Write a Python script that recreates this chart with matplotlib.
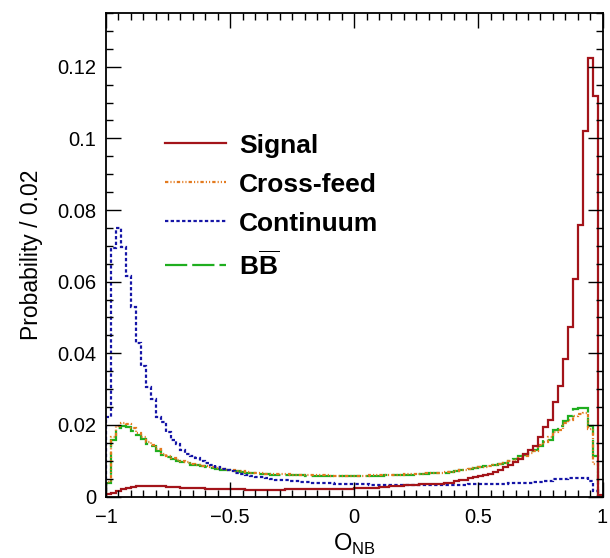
import numpy as np
import matplotlib
matplotlib.use("Agg")
import matplotlib.pyplot as plt
from matplotlib.ticker import FixedLocator, MultipleLocator
from matplotlib.lines import Line2D

plt.rcParams['font.family'] = ['Liberation Sans', 'DejaVu Sans']
plt.rcParams['mathtext.fontset'] = 'custom'
plt.rcParams['mathtext.rm'] = 'Liberation Sans'
plt.rcParams['mathtext.bf'] = 'Liberation Sans:bold'
plt.rcParams['lines.scale_dashes'] = False

# ---------------- data ----------------
bin_edges = np.linspace(-1.0, 1.0, 101)

signal = [
    0.0006, 0.0010, 0.0016, 0.0021, 0.0025, 0.0027, 0.0028, 0.0028, 0.0029, 0.0029,
    0.0028, 0.0028, 0.0027, 0.0026, 0.0026, 0.0025, 0.0024, 0.0024, 0.0023, 0.0023,
    0.0022, 0.0022, 0.0021, 0.0021, 0.0021, 0.0021, 0.0020, 0.0020, 0.0019, 0.0019,
    0.0019, 0.0019, 0.0019, 0.0019, 0.0019, 0.0019, 0.0020, 0.0020, 0.0020, 0.0020,
    0.0020, 0.0021, 0.0021, 0.0021, 0.0021, 0.0021, 0.0022, 0.0022, 0.0022, 0.0022,
    0.0023, 0.0023, 0.0024, 0.0024, 0.0025, 0.0026, 0.0027, 0.0028, 0.0029, 0.0030,
    0.0031, 0.0032, 0.0033, 0.0034, 0.0034, 0.0035, 0.0035, 0.0036, 0.0037, 0.0039,
    0.0042, 0.0045, 0.0047, 0.0051, 0.0054, 0.0057, 0.0060, 0.0064, 0.0068, 0.0073,
    0.0081, 0.0087, 0.0096, 0.0104, 0.0118, 0.0131, 0.0142, 0.0165, 0.0195, 0.0214,
    0.0265, 0.0308, 0.0384, 0.0472, 0.0607, 0.0759, 0.1021, 0.1225, 0.1119, 0.0003,
]

cross_feed = [
    0.0040, 0.0165, 0.0196, 0.0204, 0.0203, 0.0190, 0.0176, 0.0165, 0.0152, 0.0145,
    0.0133, 0.0120, 0.0113, 0.0108, 0.0103, 0.0099, 0.0095, 0.0091, 0.0088, 0.0086,
    0.0084, 0.0082, 0.0080, 0.0077, 0.0075, 0.0074, 0.0072, 0.0070, 0.0068, 0.0067,
    0.0066, 0.0065, 0.0064, 0.0063, 0.0063, 0.0062, 0.0062, 0.0061, 0.0061, 0.0060,
    0.0060, 0.0060, 0.0059, 0.0059, 0.0059, 0.0058, 0.0058, 0.0058, 0.0058, 0.0058,
    0.0058, 0.0058, 0.0058, 0.0059, 0.0059, 0.0059, 0.0060, 0.0060, 0.0061, 0.0061,
    0.0062, 0.0062, 0.0063, 0.0064, 0.0065, 0.0066, 0.0067, 0.0067, 0.0068, 0.0069,
    0.0071, 0.0073, 0.0075, 0.0077, 0.0079, 0.0081, 0.0083, 0.0085, 0.0087, 0.0090,
    0.0093, 0.0098, 0.0103, 0.0108, 0.0112, 0.0122, 0.0128, 0.0145, 0.0152, 0.0165,
    0.0179, 0.0187, 0.0205, 0.0215, 0.0226, 0.0230, 0.0233, 0.0189, 0.0091, 0.0000,
]

continuum = [
    0.0222, 0.0695, 0.0750, 0.0698, 0.0617, 0.0530, 0.0430, 0.0365, 0.0305, 0.0272,
    0.0222, 0.0207, 0.0180, 0.0159, 0.0147, 0.0130, 0.0120, 0.0113, 0.0107, 0.0100,
    0.0093, 0.0087, 0.0082, 0.0077, 0.0074, 0.0070, 0.0066, 0.0062, 0.0060, 0.0058,
    0.0055, 0.0054, 0.0051, 0.0049, 0.0047, 0.0046, 0.0045, 0.0044, 0.0042, 0.0041,
    0.0040, 0.0039, 0.0038, 0.0038, 0.0037, 0.0037, 0.0036, 0.0036, 0.0035, 0.0035,
    0.0035, 0.0034, 0.0034, 0.0033, 0.0033, 0.0033, 0.0033, 0.0033, 0.0033, 0.0033,
    0.0033, 0.0033, 0.0033, 0.0032, 0.0032, 0.0032, 0.0032, 0.0033, 0.0033, 0.0033,
    0.0033, 0.0033, 0.0033, 0.0034, 0.0034, 0.0034, 0.0035, 0.0035, 0.0035, 0.0036,
    0.0036, 0.0037, 0.0037, 0.0038, 0.0038, 0.0039, 0.0040, 0.0041, 0.0042, 0.0044,
    0.0048, 0.0049, 0.0050, 0.0051, 0.0052, 0.0052, 0.0052, 0.0042, 0.0014, 0.0000,
]

bbbar = [
    0.0038, 0.0158, 0.0192, 0.0198, 0.0195, 0.0183, 0.0171, 0.0161, 0.0148, 0.0140,
    0.0128, 0.0115, 0.0110, 0.0105, 0.0100, 0.0097, 0.0093, 0.0089, 0.0087, 0.0084,
    0.0083, 0.0080, 0.0078, 0.0075, 0.0073, 0.0072, 0.0070, 0.0068, 0.0066, 0.0065,
    0.0064, 0.0063, 0.0062, 0.0061, 0.0061, 0.0060, 0.0060, 0.0060, 0.0059, 0.0059,
    0.0058, 0.0058, 0.0058, 0.0057, 0.0057, 0.0057, 0.0057, 0.0057, 0.0057, 0.0057,
    0.0057, 0.0057, 0.0057, 0.0058, 0.0058, 0.0058, 0.0059, 0.0059, 0.0060, 0.0060,
    0.0061, 0.0061, 0.0062, 0.0063, 0.0064, 0.0065, 0.0066, 0.0066, 0.0067, 0.0069,
    0.0071, 0.0074, 0.0075, 0.0077, 0.0079, 0.0082, 0.0084, 0.0087, 0.0088, 0.0091,
    0.0093, 0.0100, 0.0105, 0.0112, 0.0115, 0.0126, 0.0130, 0.0142, 0.0157, 0.0159,
    0.0186, 0.0196, 0.0212, 0.0224, 0.0245, 0.0246, 0.0247, 0.0198, 0.0112, 0.0000,
]

labels = ["Signal", "Cross-feed", "Continuum", r"$\mathbf{B\overline{B}}$"]
x_ticks = [-1.0, -0.5, 0.0, 0.5, 1.0]
x_tick_labels = ["\u22121", "\u22120.5", "0", "0.5", "1"]
y_ticks = [0.0, 0.02, 0.04, 0.06, 0.08, 0.10, 0.12]
y_tick_labels = ["0", "0.02", "0.04", "0.06", "0.08", "0.1", "0.12"]

# ---------------- figure ----------------
fig = plt.figure(figsize=(6.10, 5.58), dpi=100)
ax = fig.add_axes([106 / 610, 1 - 496.5 / 558, 496.5 / 610, 483.8 / 558])

lw = 1.6
c_sig = '#a3141a'
c_cf = '#e37a1e'
c_cont = '#1414a6'
c_bb = '#1fae1f'
ls_cf = (0, (2.4, 1.5, 0.8, 1.5, 0.8, 1.5))
ls_cont = (0, (2.4, 1.7))
ls_bb = (0, (16, 3.6))

ax.stairs(bbbar, bin_edges, baseline=0, color=c_bb, lw=lw, linestyle=ls_bb)
ax.stairs(cross_feed, bin_edges, baseline=0, color=c_cf, lw=lw, linestyle=ls_cf)
ax.stairs(continuum, bin_edges, baseline=0, color=c_cont, lw=lw, linestyle=ls_cont)
ax.stairs(signal, bin_edges, baseline=0, color=c_sig, lw=lw, linestyle='-')

handles = [
    Line2D([], [], color=c_sig, lw=lw, linestyle='-'),
    Line2D([], [], color=c_cf, lw=lw, linestyle=ls_cf),
    Line2D([], [], color=c_cont, lw=lw, linestyle=ls_cont),
    Line2D([], [], color=c_bb, lw=lw, linestyle=ls_bb),
]
leg = ax.legend(handles, labels, loc='upper left',
                bbox_to_anchor=(0.119, 0.75), frameon=False,
                prop={'weight': 'bold', 'size': 19},
                handlelength=2.3, handletextpad=0.5, labelspacing=0.57,
                borderpad=0, borderaxespad=0)

ax.set_xlim(-1, 1)
ax.set_ylim(0, 0.1351)

ax.xaxis.set_major_locator(FixedLocator(x_ticks))
ax.set_xticklabels(x_tick_labels)
ax.xaxis.set_minor_locator(MultipleLocator(0.05))
ax.yaxis.set_major_locator(FixedLocator(y_ticks))
ax.set_yticklabels(y_tick_labels)
ax.yaxis.set_minor_locator(MultipleLocator(0.005))

ax.tick_params(which='both', direction='in', top=True, right=True,
               colors='black', width=1.0)
ax.tick_params(which='major', length=10.5, labelsize=14.5, pad=7)
ax.tick_params(which='minor', length=5.2)
ax.tick_params(axis='x', which='major', pad=8)

for s in ax.spines.values():
    s.set_linewidth(1.3)

ax.set_xlabel(r"O$_{\mathrm{NB}}$", fontsize=17, labelpad=4)
ax.set_ylabel("Probability / 0.02", fontsize=16.5, labelpad=10)

fig.savefig("out.png", dpi=100)
